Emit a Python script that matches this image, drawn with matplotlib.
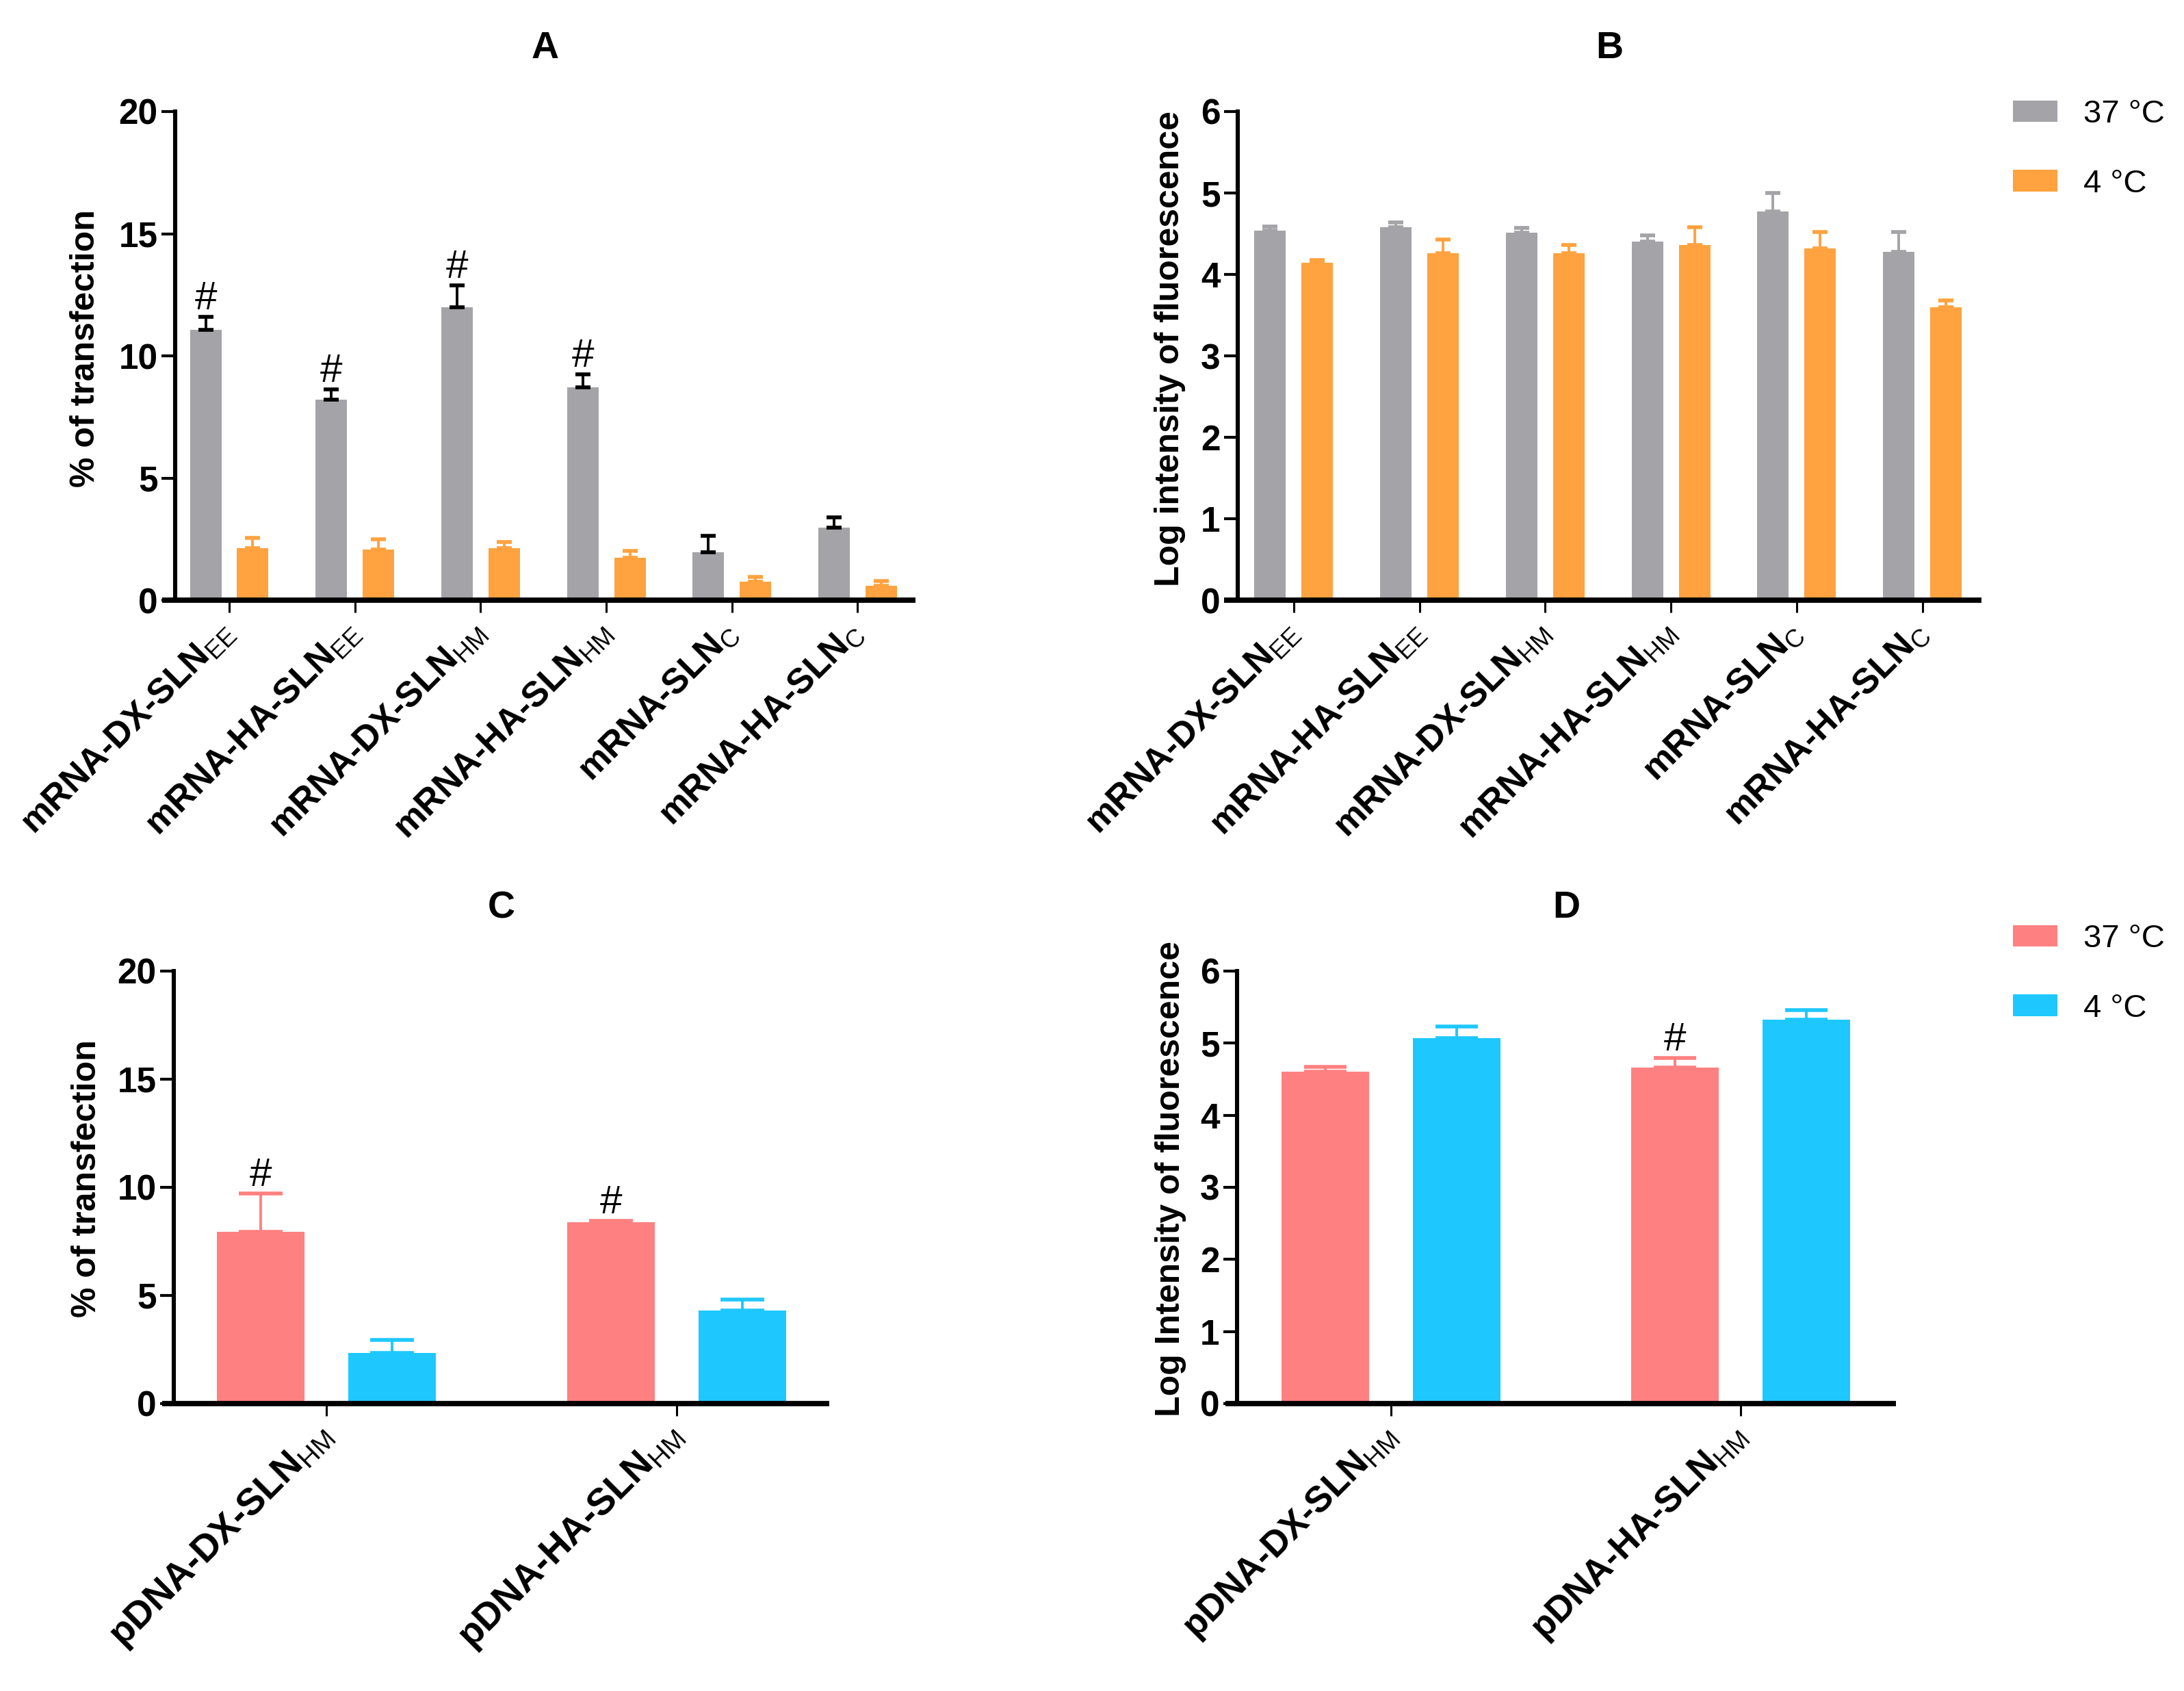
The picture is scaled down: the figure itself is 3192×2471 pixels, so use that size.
import matplotlib
matplotlib.use('Agg')
import matplotlib.pyplot as plt
from matplotlib.patches import Patch
from matplotlib.transforms import ScaledTranslation
import numpy as np

plt.rcParams['font.family'] = ['Liberation Sans', 'DejaVu Sans']
plt.rcParams['mathtext.fontset'] = 'custom'
plt.rcParams['mathtext.rm'] = 'Liberation Sans'
plt.rcParams['mathtext.it'] = 'Liberation Sans:italic'
plt.rcParams['mathtext.bf'] = 'Liberation Sans:bold'

# ---------------- data ----------------
mrna_labels = ["mRNA-DX-SLN$_{\\mathrm{EE}}$", "mRNA-HA-SLN$_{\\mathrm{EE}}$",
               "mRNA-DX-SLN$_{\\mathrm{HM}}$", "mRNA-HA-SLN$_{\\mathrm{HM}}$",
               "mRNA-SLN$_{\\mathrm{C}}$", "mRNA-HA-SLN$_{\\mathrm{C}}$"]
pdna_labels = ["pDNA-DX-SLN$_{\\mathrm{HM}}$", "pDNA-HA-SLN$_{\\mathrm{HM}}$"]
legend_labels = ["37 \u00b0C", "4 \u00b0C"]

A_37 = [11.07, 8.21, 11.99, 8.71, 1.95, 2.96]
A_37_err = [0.53, 0.42, 0.90, 0.53, 0.67, 0.43]
A_4 = [2.12, 2.07, 2.12, 1.73, 0.76, 0.60]
A_4_err = [0.43, 0.42, 0.27, 0.29, 0.19, 0.19]
A_sig = [True, True, True, True, False, False]

B_37 = [4.54, 4.58, 4.51, 4.40, 4.77, 4.28]
B_37_err = [0.05, 0.06, 0.06, 0.08, 0.23, 0.24]
B_4 = [4.14, 4.26, 4.26, 4.36, 4.32, 3.60]
B_4_err = [0.04, 0.17, 0.10, 0.22, 0.20, 0.08]
B_sig = [False] * 6

C_37 = [7.94, 8.39]
C_37_err = [1.78, 0.07]
C_4 = [2.35, 4.30]
C_4_err = [0.60, 0.52]
C_sig = [True, True]

D_37 = [4.60, 4.66]
D_37_err = [0.07, 0.13]
D_4 = [5.07, 5.33]
D_4_err = [0.16, 0.13]
D_sig = [False, True]

GRAY = '#A3A3A8'
ORANGE = '#FFA23F'
PINK = '#FF8080'
BLUE = '#1EC8FF'

W, H = 3192, 2471
DPI = 200
fig = plt.figure(figsize=(W / DPI, H / DPI), dpi=DPI)


def px_axes(l, r, t, b):
    return fig.add_axes([l / W, 1 - b / H, (r - l) / W, (b - t) / H])


def panel(ax, labels, v37, e37, v4, e4, sig, c37, c4, ecol37, ecol4,
          ymax, ystep, ylabel, title, capsize, xlim, ylab_x, ylab_y, xfs):
    n = len(labels)
    x = np.arange(n)
    w = 0.25
    off = 0.1875
    ax.bar(x - off, v37, width=w, color=c37, zorder=2)
    ax.bar(x + off, v4, width=w, color=c4, zorder=2)
    ax.errorbar(x - off, v37, yerr=[np.zeros(n), e37], fmt='none', ecolor=ecol37,
                elinewidth=1.4, capsize=capsize, capthick=2.0, zorder=3)
    ax.errorbar(x + off, v4, yerr=[np.zeros(n), e4], fmt='none', ecolor=ecol4,
                elinewidth=1.4, capsize=capsize, capthick=2.0, zorder=3)
    for i in range(n):
        if sig[i]:
            ax.annotate('#', (x[i] - off, v37[i] + e37[i]), xytext=(0, 4),
                        textcoords='offset points', ha='center', va='baseline',
                        fontsize=21, color='black')
    ax.set_xlim(*xlim)
    ax.set_ylim(0, ymax)
    ax.set_yticks(np.arange(0, ymax + 0.001, ystep))
    ax.set_xticks(x)
    ax.set_xticklabels(labels, rotation=45, ha='right', va='center',
                       rotation_mode='anchor', fontsize=xfs, fontweight='bold')
    for lab in ax.get_xticklabels():
        lab.set_transform(lab.get_transform() +
                          ScaledTranslation(20 / DPI, 10 / DPI, fig.dpi_scale_trans))
    for lab in ax.get_yticklabels():
        lab.set_fontweight('bold')
        lab.set_fontsize(18.5)
    ax.spines['top'].set_visible(False)
    ax.spines['right'].set_visible(False)
    ax.spines['bottom'].set_visible(False)
    ax.spines['left'].set_linewidth(2.2)
    ax.plot([-0.018, 1.0], [0, 0], transform=ax.transAxes, color='black',
            lw=2.8, clip_on=False, solid_capstyle='butt', zorder=5)
    ax.tick_params(axis='y', length=7.2, width=1.5, pad=2)
    ax.tick_params(axis='x', length=6.5, width=1.1, pad=8)
    ax.set_ylabel(ylabel, fontsize=18, fontweight='bold')
    ax.yaxis.set_label_coords(ylab_x, ylab_y)
    ax.set_title(title, fontsize=20, fontweight='bold', pad=28)


axA = px_axes(256, 1338, 163, 877)
panel(axA, mrna_labels, A_37, A_37_err, A_4, A_4_err, A_sig, GRAY, ORANGE,
      'black', ORANGE, 20, 5, '% of transfection', 'A', 4, (-0.43, 5.46), -0.100, 0.515, 18.6)

axB = px_axes(1809, 2896, 163, 877)
panel(axB, mrna_labels, B_37, B_37_err, B_4, B_4_err, B_sig, GRAY, ORANGE,
      GRAY, ORANGE, 6, 1, 'Log intensity of fluorescence', 'B', 4, (-0.445, 5.47), -0.070, 0.515, 18.6)

axC = px_axes(254, 1212, 1419, 2051)
panel(axC, pdna_labels, C_37, C_37_err, C_4, C_4_err, C_sig, PINK, BLUE,
      PINK, BLUE, 20, 5, '% of transfection', 'C', 11.5, (-0.436, 1.436), -0.109, 0.52, 19.8)

axD = px_axes(1808, 2771, 1419, 2051)
panel(axD, pdna_labels, D_37, D_37_err, D_4, D_4_err, D_sig, PINK, BLUE,
      PINK, BLUE, 6, 1, 'Log Intensity of fluorescence', 'D', 11, (-0.44, 1.444), -0.077, 0.52, 19)


def legend(colors, x, y):
    handles = [Patch(facecolor=c, edgecolor='none') for c in colors]
    fig.legend(handles=handles, labels=legend_labels, loc='upper left',
               bbox_to_anchor=(x / W, 1 - y / H), frameon=False, fontsize=17,
               handlelength=1.38, handleheight=0.66, handletextpad=0.8,
               labelspacing=1.22, borderpad=0, borderaxespad=0)


legend([GRAY, ORANGE], 2942, 145)
legend([PINK, BLUE], 2942, 1350)

fig.savefig('out.png', dpi=DPI)
